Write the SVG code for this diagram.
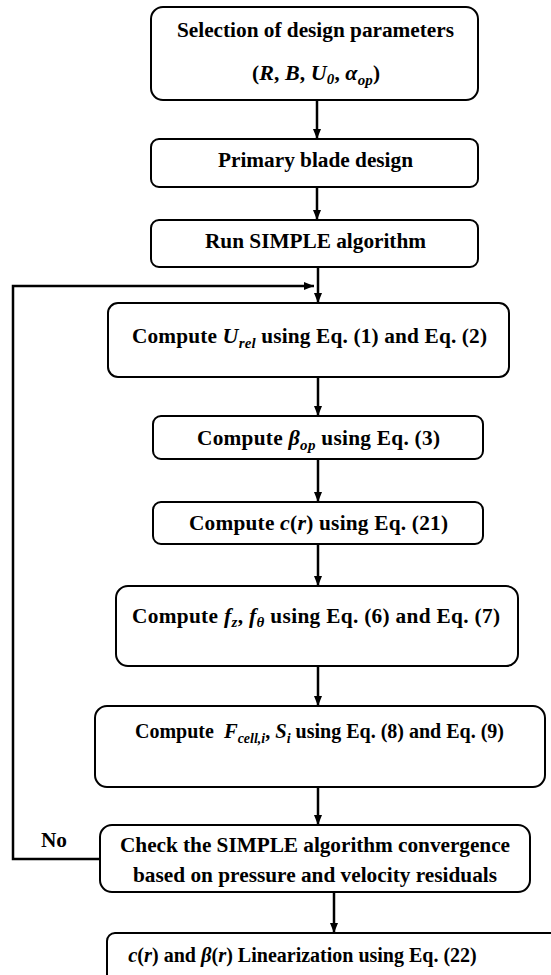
<svg xmlns="http://www.w3.org/2000/svg" width="551" height="975" viewBox="0 0 551 975">
<defs>
<marker id="ah" markerUnits="userSpaceOnUse" markerWidth="10" markerHeight="8" refX="10" refY="4" orient="auto">
<path d="M0,0 L10,4 L0,8 z" fill="#000"/>
</marker>
<style>
.box{fill:#fff;stroke:#000;stroke-width:2}
.t{font-family:"Liberation Serif","Times New Roman",serif;font-weight:bold;font-size:21.3px;fill:#000;text-anchor:middle}
.m{font-style:italic;font-size:22px}
.s{font-style:italic;font-size:15px}
.up{font-style:normal}
.sm{font-size:20px}
.sm .m{font-size:20.6px}
.sm .s{font-size:14px}
.c{fill:none;stroke:#000;stroke-width:2.5}
</style>
</defs>
<rect width="551" height="975" fill="#fff"/>
<g id="connectors">
<line class="c" x1="317" y1="100" x2="317" y2="139" marker-end="url(#ah)"/>
<line class="c" x1="317" y1="187" x2="317" y2="220" marker-end="url(#ah)"/>
<line class="c" x1="318" y1="267" x2="318" y2="303" marker-end="url(#ah)"/>
<polyline class="c" points="100,859 13,859 13,286 314,286" marker-end="url(#ah)"/>
<line class="c" x1="318" y1="377" x2="318" y2="416" marker-end="url(#ah)"/>
<line class="c" x1="318" y1="459" x2="318" y2="502" marker-end="url(#ah)"/>
<line class="c" x1="318" y1="544" x2="318" y2="586" marker-end="url(#ah)"/>
<line class="c" x1="318" y1="666" x2="318" y2="706" marker-end="url(#ah)"/>
<line class="c" x1="318" y1="787" x2="318" y2="825" marker-end="url(#ah)"/>
<line class="c" x1="334" y1="892" x2="334" y2="933" marker-end="url(#ah)"/>
</g>
<g id="n1">
<rect class="box" x="151" y="7" width="327" height="93" rx="12"/>
<text class="t" x="315.5" y="37" textLength="277" lengthAdjust="spacing">Selection of design parameters</text>
<text class="t" x="316" y="80" textLength="128" lengthAdjust="spacing"><tspan class="up">(</tspan><tspan class="m">R</tspan><tspan class="up">, </tspan><tspan class="m">B</tspan><tspan class="up">, </tspan><tspan class="m">U</tspan><tspan class="s" font-style="normal" dy="4">0</tspan><tspan class="up" dy="-4">, </tspan><tspan class="m">α</tspan><tspan class="s" dy="5">op</tspan><tspan class="up" dy="-5">)</tspan></text>
</g>
<g id="n2">
<rect class="box" x="151" y="139" width="327" height="48" rx="8"/>
<text class="t" x="315.5" y="167" textLength="195" lengthAdjust="spacing">Primary blade design</text>
</g>
<g id="n3">
<rect class="box" x="151" y="220" width="327" height="47" rx="8"/>
<text class="t" x="315.5" y="248" textLength="221" lengthAdjust="spacing">Run SIMPLE algorithm</text>
</g>
<g id="n4">
<rect class="box" x="108" y="303" width="401" height="74" rx="10"/>
<text class="t" x="309.5" y="343" textLength="355" lengthAdjust="spacing">Compute <tspan class="m">U</tspan><tspan class="s" dy="5">rel</tspan><tspan dy="-5"> using Eq. (1) and Eq. (2)</tspan></text>
</g>
<g id="n5">
<rect class="box" x="153" y="416" width="330" height="43" rx="8"/>
<text class="t" x="318.5" y="445" textLength="243" lengthAdjust="spacing">Compute <tspan class="m">β</tspan><tspan class="s" dy="5">op</tspan><tspan dy="-5"> using Eq. (3)</tspan></text>
</g>
<g id="n6">
<rect class="box" x="153" y="502" width="330" height="42" rx="8"/>
<text class="t" x="318.5" y="530" textLength="259" lengthAdjust="spacing">Compute <tspan class="m">c</tspan>(<tspan class="m">r</tspan>) using Eq. (21)</text>
</g>
<g id="n7">
<rect class="box" x="116" y="586" width="402" height="80" rx="12"/>
<text class="t" x="316" y="623" textLength="368" lengthAdjust="spacing">Compute <tspan class="m">f</tspan><tspan class="s" dy="4">z</tspan><tspan dy="-4">, </tspan><tspan class="m">f</tspan><tspan class="s" dy="4">θ</tspan><tspan dy="-4"> using Eq. (6) and Eq. (7)</tspan></text>
</g>
<g id="n8">
<rect class="box" x="95" y="706" width="450" height="81" rx="12"/>
<text class="t sm" x="319.5" y="738" xml:space="preserve">Compute  <tspan class="m">F</tspan><tspan class="s" dy="5">cell,i</tspan><tspan dy="-5">, </tspan><tspan class="m">S</tspan><tspan class="s" dy="5">i</tspan><tspan dy="-5"> using Eq. (8) and Eq. (9)</tspan></text>
</g>
<g id="n9">
<rect class="box" x="100" y="825" width="430" height="67" rx="12"/>
<text class="t" x="315" y="852" textLength="390" lengthAdjust="spacing">Check the SIMPLE algorithm convergence</text>
<text class="t" x="315" y="882" textLength="364" lengthAdjust="spacing">based on pressure and velocity residuals</text>
</g>
<g id="label-no">
<text class="t" x="54" y="847" textLength="26" lengthAdjust="spacing">No</text>
</g>
<g id="n10">
<rect class="box" x="107" y="933" width="460" height="60" rx="8"/>
<text class="t sm" x="302.5" y="962"><tspan class="m">c</tspan>(<tspan class="m">r</tspan>) and <tspan class="m">β</tspan>(<tspan class="m">r</tspan>) Linearization using Eq. (22)</text>
</g>
</svg>
